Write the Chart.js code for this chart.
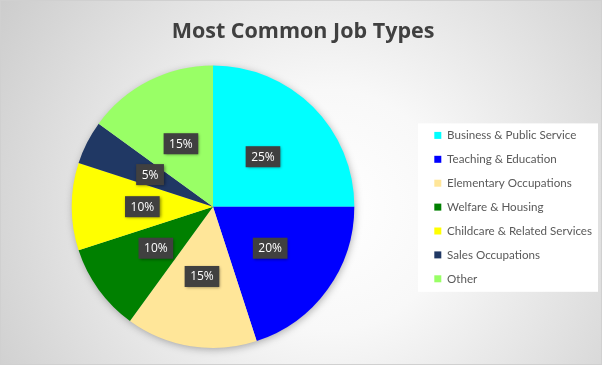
<!DOCTYPE html>
<html>
<head>
<meta charset="utf-8">
<script src="https://cdn.jsdelivr.net/npm/chart.js@4"></script>
<style>
  html, body { margin: 0; padding: 0; background: #fff; }
  #wrap { width: 602px; height: 365px; }
</style>
</head>
<body>
<div id="wrap"><canvas id="job-chart" width="602" height="365"></canvas></div>
<script>
// Chart data
const categories = [
  'Business & Public Service',
  'Teaching & Education',
  'Elementary Occupations',
  'Welfare & Housing',
  'Childcare & Related Services',
  'Sales Occupations',
  'Other'
];
const shares = [25, 20, 15, 10, 10, 5, 15];
const sliceColors = ['#00ffff', '#0000ff', '#ffe699', '#008000', '#ffff00', '#203864', '#99ff66'];

// Grey radial backdrop + white legend panel
const backdropPlugin = {
  id: 'backdrop',
  beforeDraw(chart) {
    const { ctx, width, height } = chart;
    ctx.save();
    const g = ctx.createRadialGradient(330, 210, 0, 330, 210, 400);
    g.addColorStop(0, '#ffffff');
    g.addColorStop(0.3, '#f8f8f8');
    g.addColorStop(1, '#cbcbcb');
    ctx.fillStyle = g;
    ctx.fillRect(0, 0, width, height);
    ctx.strokeStyle = '#d0d0d0';
    ctx.lineWidth = 1;
    ctx.strokeRect(0.5, 0.5, width - 1, height - 1);

    const boxes = chart.legend && chart.legend.legendHitBoxes;
    if (boxes && boxes.length) {
      const first = boxes[0];
      const last = boxes[boxes.length - 1];
      const top = first.top + first.height / 2 - 12;
      const bottom = last.top + last.height / 2 + 13;
      ctx.fillStyle = '#ffffff';
      ctx.fillRect(chart.legend.left - 4, top, width - chart.legend.left, bottom - top);
    }
    ctx.restore();
  },
  beforeDatasetsDraw(chart) {
    // soft shadow under the pie
    const arc = chart.getDatasetMeta(0).data[0];
    if (!arc) return;
    const { ctx } = chart;
    ctx.save();
    ctx.shadowColor = 'rgba(0, 0, 0, 0.35)';
    ctx.shadowBlur = 8;
    ctx.shadowOffsetX = 1;
    ctx.shadowOffsetY = 2;
    ctx.fillStyle = '#cccccc';
    ctx.beginPath();
    ctx.arc(arc.x, arc.y, arc.outerRadius - 1, 0, Math.PI * 2);
    ctx.fill();
    ctx.restore();
  }
};

// Dark percentage boxes in the middle of each slice
const sliceLabelPlugin = {
  id: 'sliceLabels',
  afterDatasetsDraw(chart) {
    const { ctx } = chart;
    const meta = chart.getDatasetMeta(0);
    ctx.save();
    ctx.font = '12px "Open Sans", sans-serif';
    ctx.textAlign = 'center';
    ctx.textBaseline = 'middle';
    meta.data.forEach((arc, i) => {
      const { x, y } = arc.getCenterPoint();
      const text = shares[i] + '%';
      const w = ctx.measureText(text).width + 11;
      const h = 21;
      ctx.shadowColor = 'rgba(0, 0, 0, 0.45)';
      ctx.shadowBlur = 3;
      ctx.shadowOffsetX = 1;
      ctx.shadowOffsetY = 1;
      ctx.fillStyle = '#404040';
      ctx.fillRect(x - w / 2, y - h / 2, w, h);
      ctx.shadowColor = 'transparent';
      ctx.fillStyle = '#ffffff';
      ctx.fillText(text, x, y + 0.5);
    });
    ctx.restore();
  }
};

new Chart(document.getElementById('job-chart'), {
  type: 'pie',
  data: {
    labels: categories,
    datasets: [{
      data: shares,
      backgroundColor: sliceColors,
      borderWidth: 0
    }]
  },
  options: {
    responsive: false,
    animation: false,
    layout: {
      padding: { top: 8, bottom: 17, left: 4, right: 0 }
    },
    plugins: {
      title: {
        display: true,
        text: 'Most Common Job Types',
        color: '#404040',
        font: { family: '"Open Sans", sans-serif', size: 21.5, weight: 'bold', lineHeight: 1.25 },
        padding: { top: 10.5, bottom: 20 }
      },
      legend: {
        position: 'right',
        maxWidth: 180,
        // empty title only nudges the item column down
        title: {
          display: true,
          text: '',
          font: { size: 1 },
          padding: { top: 0, bottom: 57 }
        },
        labels: {
          boxWidth: 7,
          boxHeight: 7,
          padding: 12.3,
          color: '#595959',
          font: { family: 'Lato, sans-serif', size: 11.6 }
        }
      },
      tooltip: { enabled: false }
    }
  },
  plugins: [backdropPlugin, sliceLabelPlugin]
});
</script>
</body>
</html>
